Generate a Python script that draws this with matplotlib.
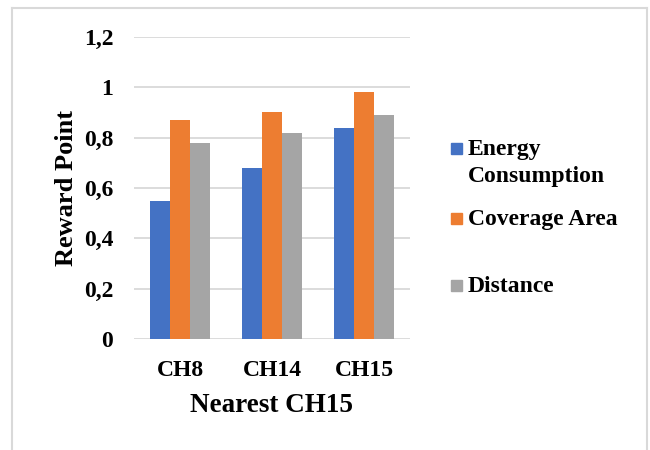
import matplotlib.pyplot as plt
import numpy as np
from matplotlib.lines import Line2D
from matplotlib.patches import Rectangle

plt.rcParams['font.family'] = ['Liberation Serif', 'DejaVu Serif']
plt.rcParams['font.weight'] = 'bold'

categories = ['CH8', 'CH14', 'CH15']
energy = [0.55, 0.68, 0.84]
coverage = [0.87, 0.90, 0.98]
distance = [0.78, 0.82, 0.89]
yticks = [0, 0.2, 0.4, 0.6, 0.8, 1.0, 1.2]
ytick_labels = ['0', '0,2', '0,4', '0,6', '0,8', '1', '1,2']
series_names = ['Energy\nConsumption', 'Coverage Area', 'Distance']
colors = ['#4472C4', '#ED7D31', '#A5A5A5']

W, H = 650, 450
fig = plt.figure(figsize=(6.5, 4.5), dpi=100)
ax = fig.add_axes([134/W, 1 - 339/H, 276/W, 302/H])

x = np.arange(len(categories))
w = 0.215
for off, vals, c in zip([-w, 0, w], [energy, coverage, distance], colors):
    ax.bar(x + off, vals, w, color=c, zorder=3)

ax.set_xlim(-0.5, 2.5)
ax.set_ylim(0, 1.2)
ax.set_yticks(yticks)
ax.set_yticklabels(ytick_labels)
ax.set_xticks(x)
ax.set_xticklabels(categories)
ax.tick_params(axis='both', length=0, labelsize=17)
ax.tick_params(axis='x', pad=15)
ax.tick_params(axis='y', pad=15)
ax.grid(axis='y', color='#D9D9D9', linewidth=1.3, zorder=0)
for s in ax.spines.values():
    s.set_visible(False)

ax.set_ylabel('Reward Point', fontsize=19, fontweight='bold', labelpad=4)
fig.text(272/W, 1 - 406/H, 'Nearest CH15', fontsize=19.5, fontweight='bold',
         ha='center', va='center')

# legend entries placed by hand (uneven spacing)
leg_rows = [148, 218, 285]
for name, c, yy in zip(series_names, colors, leg_rows):
    fig.add_artist(Rectangle((451/W, 1 - (yy + 6)/H), 11/W, 11/H,
                             color=c, transform=fig.transFigure))
    fig.text(468/W, 1 - (yy - 9)/H, name, fontsize=17, fontweight='bold',
             ha='left', va='top', linespacing=1.35)

# light outer frame (open at the bottom)
frame = dict(color='#D9D9D9', linewidth=1.5, transform=fig.transFigure)
fig.add_artist(Line2D([12/W, 12/W], [0, 1 - 8/H], **frame))
fig.add_artist(Line2D([12/W, 647/W], [1 - 8/H, 1 - 8/H], **frame))
fig.add_artist(Line2D([647/W, 647/W], [0, 1 - 8/H], **frame))

fig.savefig('out.png', dpi=100)
